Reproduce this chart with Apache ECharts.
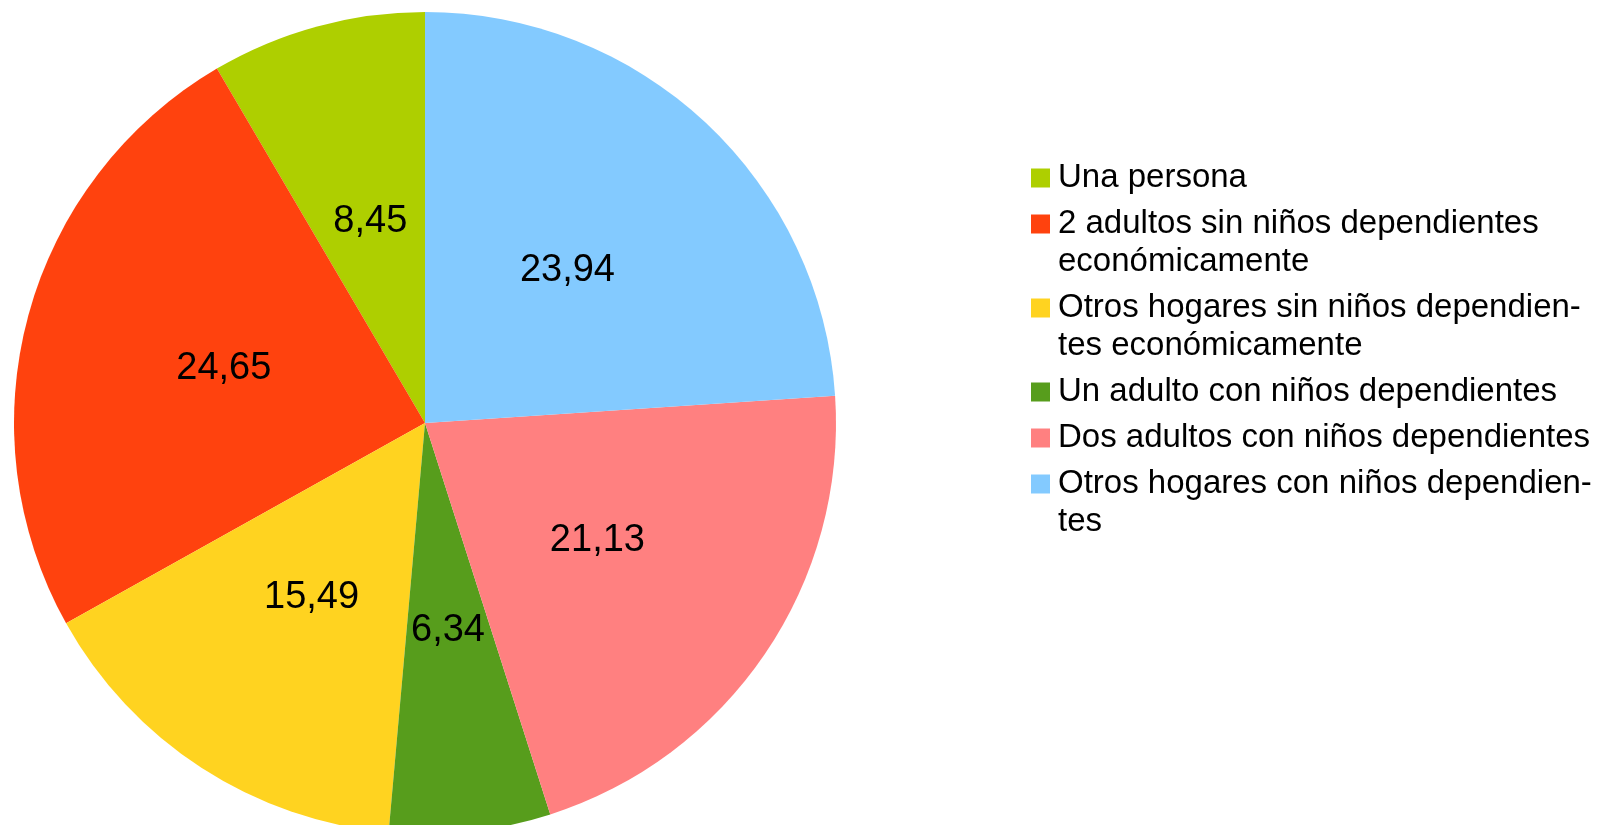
<!DOCTYPE html>
<html>
<head>
<meta charset="utf-8">
<script src="https://cdn.jsdelivr.net/npm/echarts@6/dist/echarts.min.js"></script>
<style>
html, body { margin: 0; padding: 0; background: #fff; }
#chart { width: 1604px; height: 825px; }
</style>
</head>
<body>
<div id="chart"></div>
<script>
// categorias, en el orden de la leyenda
var categorias = [
    'Una persona',
    '2 adultos sin niños dependientes económicamente',
    'Otros hogares sin niños dependientes económicamente',
    'Un adulto con niños dependientes',
    'Dos adultos con niños dependientes',
    'Otros hogares con niños dependientes'
];
// como se corta el texto en la leyenda
var lineasLeyenda = [
    ['Una persona'],
    ['2 adultos sin niños dependientes', 'económicamente'],
    ['Otros hogares sin niños dependien-', 'tes económicamente'],
    ['Un adulto con niños dependientes'],
    ['Dos adultos con niños dependientes'],
    ['Otros hogares con niños dependien-', 'tes']
];
var valores = [8.45, 24.65, 15.49, 6.34, 21.13, 23.94];
var colores = ['#aecf00', '#ff420e', '#ffd320', '#579d1c', '#ff8080', '#83caff'];

var datos = [];
var rich = {
    t: { fontFamily: 'Liberation Sans', fontSize: 33, color: '#000', lineHeight: 38, verticalAlign: 'middle' },
    g: { width: 8, height: 19, lineHeight: 38 },
    i: { width: 27, height: 19, lineHeight: 38 }
};
for (var k = 0; k < categorias.length; k++) {
    datos.push({ name: categorias[k], value: valores[k], itemStyle: { color: colores[k] } });
    rich['c' + k] = { width: 19, height: 19, lineHeight: 38, backgroundColor: colores[k], verticalAlign: 'middle' };
}

var dom = document.getElementById('chart');
var myChart = echarts.init(dom);
var option = {
    animation: false,
    backgroundColor: '#fff',
    legend: {
        orient: 'vertical',
        left: 1026,
        top: 159,
        padding: 0,
        itemGap: 8,
        itemWidth: 0,
        itemHeight: 0,
        itemStyle: { borderWidth: 0 },
        data: categorias,
        formatter: function (name) {
            var idx = categorias.indexOf(name);
            var lineas = lineasLeyenda[idx];
            var s = '{c' + idx + '|}{g|}{t|' + lineas[0] + '}';
            for (var j = 1; j < lineas.length; j++) {
                s += '\n{i|}{t|' + lineas[j] + '}';
            }
            return s;
        },
        textStyle: {
            fontFamily: 'Liberation Sans',
            fontSize: 33,
            lineHeight: 38,
            color: '#000',
            rich: rich
        }
    },
    series: [{
        type: 'pie',
        center: [425, 423],
        radius: 411,
        startAngle: 90,
        clockwise: false,
        itemStyle: { borderWidth: 0 },
        label: {
            show: true,
            position: 'inside',
            color: '#000',
            fontFamily: 'Liberation Sans',
            fontSize: 38,
            formatter: function (p) {
                return p.value.toFixed(2).replace('.', ',');
            }
        },
        labelLine: { show: false },
        emphasis: { disabled: true },
        data: datos
    }]
};
if (option && typeof option == 'object') {
    myChart.setOption(option, true);
}
</script>
</body>
</html>
